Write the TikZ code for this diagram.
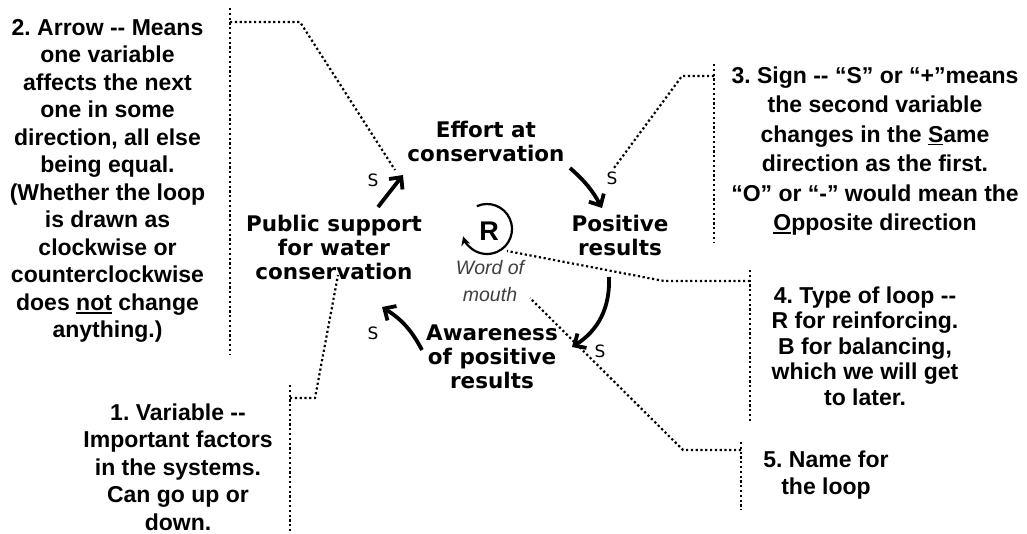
\documentclass[tikz,border=0pt]{standalone}
\usepackage{fontspec}
\setmainfont{Liberation Sans}
\newfontfamily\loopfont{DejaVu Sans}
\usetikzlibrary{arrows.meta,calc}
% thick underline for single letters / words in the notes
\newcommand\undl[1]{\setbox0\hbox{#1}\rlap{\raisebox{-3.2pt}{\rule{\wd0}{1.8pt}}}\box0\relax}
\frenchspacing

\begin{document}
\begin{tikzpicture}[x=1pt,y=-1pt,
  note/.style={align=center,font=\bfseries\fontsize{23}{27.5}\selectfont,inner sep=0pt},
  var/.style={align=center,font=\loopfont\bfseries\fontsize{21.5}{24}\selectfont,inner sep=0pt},
  sgn/.style={font=\loopfont\fontsize{17}{17}\selectfont,inner sep=0pt},
  leader/.style={line width=2.2pt,dash pattern=on 2.2pt off 2.6pt},
  link/.style={line width=3.8pt,-{Straight Barb[length=9pt,width=17pt]}},
]
\useasboundingbox[fill=white] (0,0) rectangle (1027,534);

% ---- explanatory notes ----
\node[note] (n2) at (107.5,181) {2. Arrow -{}- Means\\one variable\\affects the next\\one in some\\direction, all else\\being equal.\\(Whether the loop\\is drawn as\\clockwise or\\counterclockwise\\does \undl{not} change\\anything.)};
\node[note,font=\bfseries\fontsize{23}{29.5}\selectfont] (n3) at (875,151) {3. Sign -{}- “S” or “+”means\\the second variable\\changes in the \undl{S}ame\\direction as the first.\\“O” or “-” would mean the\\\undl{O}pposite direction};
\node[note,font=\bfseries\fontsize{23}{25.5}\selectfont] (n4) at (865,346) {4. Type of loop -{}-\\R for reinforcing.\\B for balancing,\\which we will get\\to later.};
\node[note] (n5) at (826,475) {5. Name for\\the loop};
\node[note] (n1) at (178,467) {1. Variable -{}-\\Important factors\\in the systems.\\Can go up or\\down.};

% ---- loop variables ----
\node[var] (effort) at (486,141.5) {Effort at\\conservation};
\node[var] (positive) at (620,235) {Positive\\results};
\node[var] (public) at (334,247) {Public support\\for water\\conservation};
\node[var] (aware) at (492,357) {Awareness\\of positive\\results};

% loop type and name
\coordinate (rc) at (487,229);
\node[font=\bfseries\fontsize{27}{27}\selectfont,inner sep=0pt] (rtype) at (489,231) {R};
\draw[line width=2.2pt,-{Stealth[length=9pt,width=9pt]}] (rc) ++(114:25pt) arc[start angle=114,end angle=-163,radius=25pt];
\node[align=center,font=\itshape\fontsize{19.5}{27}\selectfont,text=black!75,inner sep=0pt] (wom) at (490,281.5) {Word of\\mouth};

% ---- causal links ----
\coordinate (a1s) at (570,168); \coordinate (a1e) at (602,208);
\coordinate (a2s) at (609,277); \coordinate (a2e) at (572,347);
\coordinate (a3s) at (422,350); \coordinate (a3e) at (382,307);
\coordinate (a4s) at (378,207); \coordinate (a4e) at (403,175);
\draw[link] (a1s) to[bend left=10] (a1e);
\draw[link] (a2s) to[bend left=30] (a2e);
\draw[link] (a3s) to[bend right=15] (a3e);
\draw[link] (a4s) -- (a4e);

\node[sgn] (s1) at (373,180) {S};
\node[sgn] (s2) at (612,178) {S};
\node[sgn] (s3) at (600,351) {S};
\node[sgn] (s4) at (373,333) {S};

% ---- dotted leaders ----
\coordinate (b2t) at (230,8); \coordinate (b2b) at (230,355);
\coordinate (b2j) at (230,22); \coordinate (b2k) at (300,22); \coordinate (b2p) at (395,170);
\draw[leader] (b2t) -- (b2b);
\draw[leader] (b2j) -- (b2k) -- (b2p);

\coordinate (b3t) at (714,64); \coordinate (b3b) at (714,243);
\coordinate (b3j) at (714,76); \coordinate (b3k) at (682,76); \coordinate (b3p) at (614,168);
\draw[leader] (b3t) -- (b3b);
\draw[leader] (b3j) -- (b3k) -- (b3p);

\coordinate (b4t) at (750,270); \coordinate (b4b) at (750,422);
\coordinate (b4j) at (750,281); \coordinate (b4k) at (664,281); \coordinate (b4p) at (507,251);
\draw[leader] (b4t) -- (b4b);
\draw[leader] (b4j) -- (b4k) -- (b4p);

\coordinate (b5t) at (741,442); \coordinate (b5b) at (741,510);
\coordinate (b5j) at (741,450); \coordinate (b5k) at (683,450); \coordinate (b5p) at (530,298);
\draw[leader] (b5t) -- (b5b);
\draw[leader] (b5j) -- (b5k) -- (b5p);

\coordinate (b1t) at (290,385); \coordinate (b1b) at (290,534);
\coordinate (b1j) at (290,398); \coordinate (b1k) at (315,398); \coordinate (b1p) at (338,275);
\draw[leader] (b1t) -- (b1b);
\draw[leader] (b1j) -- (b1k) -- (b1p);
\end{tikzpicture}
\end{document}
